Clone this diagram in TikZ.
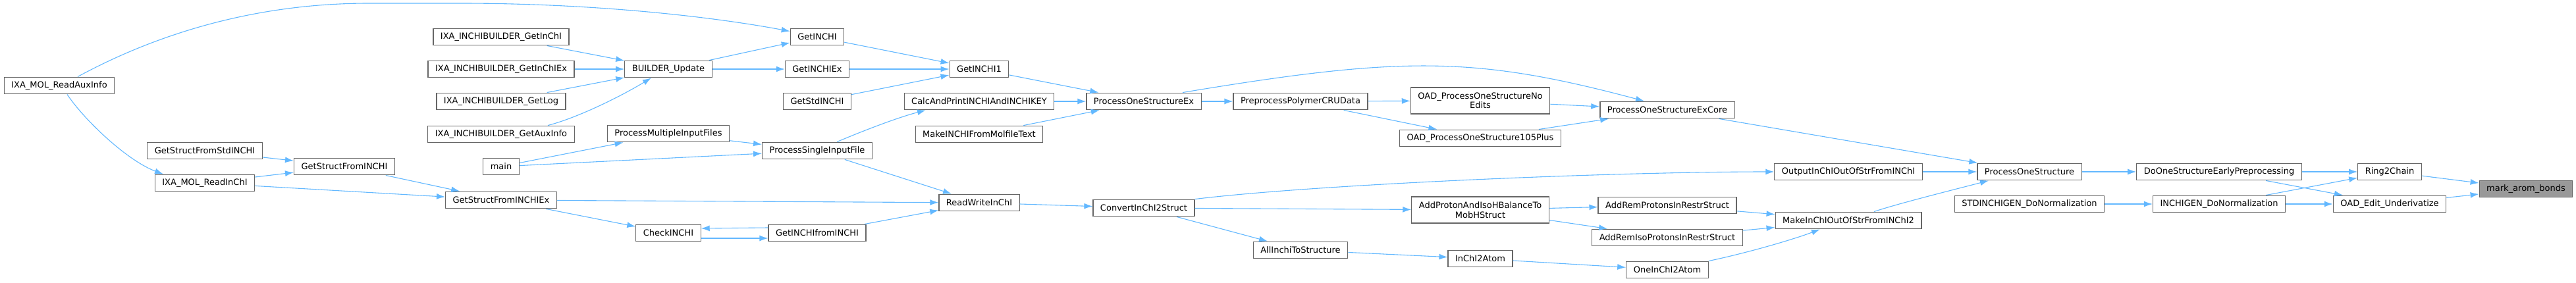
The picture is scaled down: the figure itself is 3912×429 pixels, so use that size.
\documentclass[tikz,border=0pt]{standalone}
\usepackage{fontspec}
\setmainfont{DejaVu Sans}
\usetikzlibrary{arrows.meta}
\definecolor{edgeblue}{HTML}{63B8FF}
\definecolor{boxgray}{HTML}{666666}
\definecolor{markgray}{HTML}{999999}

\begin{document}
\begin{tikzpicture}[x=1pt,y=-1pt,>={Latex[length=13pt,width=9pt]},
    fn/.style={draw=boxgray,fill=white,line width=1.2pt,align=center,
      font=\fontsize{13}{14.5}\selectfont,inner xsep=11pt,inner ysep=4pt,
      minimum height=25.7pt},
    fntwo/.style={fn,minimum height=40pt},
    hl/.style={fn,fill=markgray},
    call/.style={->,draw=edgeblue,line width=1.1pt}]
      \useasboundingbox (0,0) rectangle (3912,429);
      \node[fn] (rai) at (90,130) {IXA\_MOL\_ReadAuxInfo};
      \node[fn] (gsfs) at (311,229) {GetStructFromStdINCHI};
      \node[fn] (rin) at (311,278) {IXA\_MOL\_ReadInChI};
      \node[fn] (gsfi) at (523,253) {GetStructFromINCHI};
      \node[fn] (bgi) at (761,56) {IXA\_INCHIBUILDER\_GetInChI};
      \node[fn] (bgx) at (761,105) {IXA\_INCHIBUILDER\_GetInChIEx};
      \node[fn] (bgl) at (761,154) {IXA\_INCHIBUILDER\_GetLog};
      \node[fn] (bga) at (761,204) {IXA\_INCHIBUILDER\_GetAuxInfo};
      \node[fn] (mn) at (761,253) {main};
      \node[fn] (gsfx) at (761,304) {GetStructFromINCHIEx};
      \node[fn] (bu) at (1015,105) {BUILDER\_Update};
      \node[fn] (pmif) at (1015,203) {ProcessMultipleInputFiles};
      \node[fn] (chk) at (1015,354) {CheckINCHI};
      \node[fn] (gi) at (1241,56) {GetINCHI};
      \node[fn] (gix) at (1241,105) {GetINCHIEx};
      \node[fn] (gsi) at (1241,154) {GetStdINCHI};
      \node[fn] (psif) at (1241,229) {ProcessSingleInputFile};
      \node[fn] (gif) at (1241,354) {GetINCHIfromINCHI};
      \node[fn] (gi1) at (1487,105) {GetINCHI1};
      \node[fn] (cap) at (1487,154) {CalcAndPrintINCHIAndINCHIKEY};
      \node[fn] (mif) at (1487,204) {MakeINCHIFromMolfileText};
      \node[fn] (rw) at (1487,308) {ReadWriteInChI};
      \node[fn] (psx) at (1737,154) {ProcessOneStructureEx};
      \node[fn] (c2s) at (1737,316) {ConvertInChI2Struct};
      \node[fn] (ppc) at (1975,154) {PreprocessPolymerCRUData};
      \node[fn] (ais) at (1975,380) {AllInchiToStructure};
      \node[fntwo] (one) at (2248,153) {OAD\_ProcessOneStructureNo\\Edits};
      \node[fn] (o105) at (2248,210) {OAD\_ProcessOneStructure105Plus};
      \node[fntwo] (apb) at (2248,319) {AddProtonAndIsoHBalanceTo\\MobHStruct};
      \node[fn] (i2a) at (2248,393) {InChI2Atom};
      \node[fn] (psxc) at (2532,167) {ProcessOneStructureExCore};
      \node[fn] (arp) at (2532,312) {AddRemProtonsInRestrStruct};
      \node[fn] (ari) at (2532,361) {AddRemIsoProtonsInRestrStruct};
      \node[fn] (oi2a) at (2532,410) {OneInChI2Atom};
      \node[fn] (oio) at (2807,261) {OutputInChIOutOfStrFromINChI};
      \node[fn] (mio) at (2807,335) {MakeInChIOutOfStrFromINChI2};
      \node[fn] (pos) at (3082,261) {ProcessOneStructure};
      \node[fn] (sdn) at (3082,310) {STDINCHIGEN\_DoNormalization};
      \node[fn] (doe) at (3370,261) {DoOneStructureEarlyPreprocessing};
      \node[fn] (idn) at (3370,310) {INCHIGEN\_DoNormalization};
      \node[fn] (r2c) at (3629,261) {Ring2Chain};
      \node[fn] (oeu) at (3629,310) {OAD\_Edit\_Underivatize};
      \node[hl] (mab) at (3836,287) {mark\_arom\_bonds};

      \draw[call] (r2c) -- (mab);
      \draw[call] (oeu) -- (mab);
      \draw[call] (doe) -- (r2c);
      \draw[call] (idn) -- (r2c);
      \draw[call] (doe) -- (oeu);
      \draw[call] (idn) -- (oeu);
      \draw[call] (pos) -- (doe);
      \draw[call] (sdn) -- (idn);
      \draw[call] (psxc) -- (pos);
      \draw[call] (oio) -- (pos);
      \draw[call] ([xshift=39pt]mio.north) .. controls (2880,310) and (2960,290) .. ([xshift=-62pt]pos.south);
      \draw[call] (arp) -- (mio);
      \draw[call] (ari) -- (mio);
      \draw[call] (oi2a.north east) .. controls (2650,385) and (2720,365) .. ([xshift=-43pt]mio.south);
      \draw[call] (c2s.north east) .. controls (2000,280) and (2450,261) .. (oio.west);
      \draw[call] (one) -- (psxc);
      \draw[call] (o105) -- (psxc);
      \draw[call] ([xshift=59pt]psx.north) .. controls (2130,85) and (2240,85) .. ([xshift=-35pt]psxc.north);
      \draw[call] (ppc) -- (one);
      \draw[call] (ppc) -- (o105);
      \draw[call] (psx) -- (ppc);
      \draw[call] (apb) -- (arp);
      \draw[call] (apb) -- (ari);
      \draw[call] (c2s) -- (apb);
      \draw[call] (c2s) -- (ais);
      \draw[call] (ais) -- (i2a);
      \draw[call] (i2a) -- (oi2a);
      \draw[call] (gi1) -- (psx);
      \draw[call] (cap) -- (psx);
      \draw[call] (mif) -- (psx);
      \draw[call] (rw) -- (c2s);
      \draw[call] (gi) -- (gi1);
      \draw[call] (gix) -- (gi1);
      \draw[call] (gsi) -- (gi1);
      \draw[call] ([xshift=30pt]psif.north) .. controls (1315,197) and (1365,178) .. ([xshift=-81pt]cap.south);
      \draw[call] (psif) -- (rw);
      \draw[call] (gsfx) -- (rw);
      \draw[call] (gif) -- (rw);
      \draw[call] ([xshift=28pt]rai.north) .. controls (250,45) and (400,5) .. (560,5) -- (700,5)
        .. controls (900,5) and (1080,25) .. ([yshift=-5pt]gi.north west);
      \draw[call] (bu) -- (gi);
      \draw[call] (bu) -- (gix);
      \draw[call] (bgi) -- (bu);
      \draw[call] (bgx) -- (bu);
      \draw[call] (bgl) -- (bu);
      \draw[call] ([xshift=71pt]bga.north) .. controls (880,178) and (945,145) .. ([xshift=-26pt]bu.south);
      \draw[call] (pmif) -- (psif);
      \draw[call] (mn) -- (pmif);
      \draw[call] (mn) -- (psif);
      \draw[call] (gsfi) -- (gsfx);
      \draw[call] (rin) -- (gsfx);
      \draw[call] (gsfx) -- (chk);
      \draw[call] ([yshift=-8pt]chk.east) -- ([yshift=-8pt]gif.west);
      \draw[call] ([yshift=8pt]gif.west) -- ([yshift=7pt]chk.east);
      \draw[call] (gsfs) -- (gsfi);
      \draw[call] (rin) -- (gsfi);
      \draw[call] ([xshift=12pt]rai.south) .. controls (130,185) and (195,245) .. ([xshift=-63pt]rin.north);
    \end{tikzpicture}
\end{document}
